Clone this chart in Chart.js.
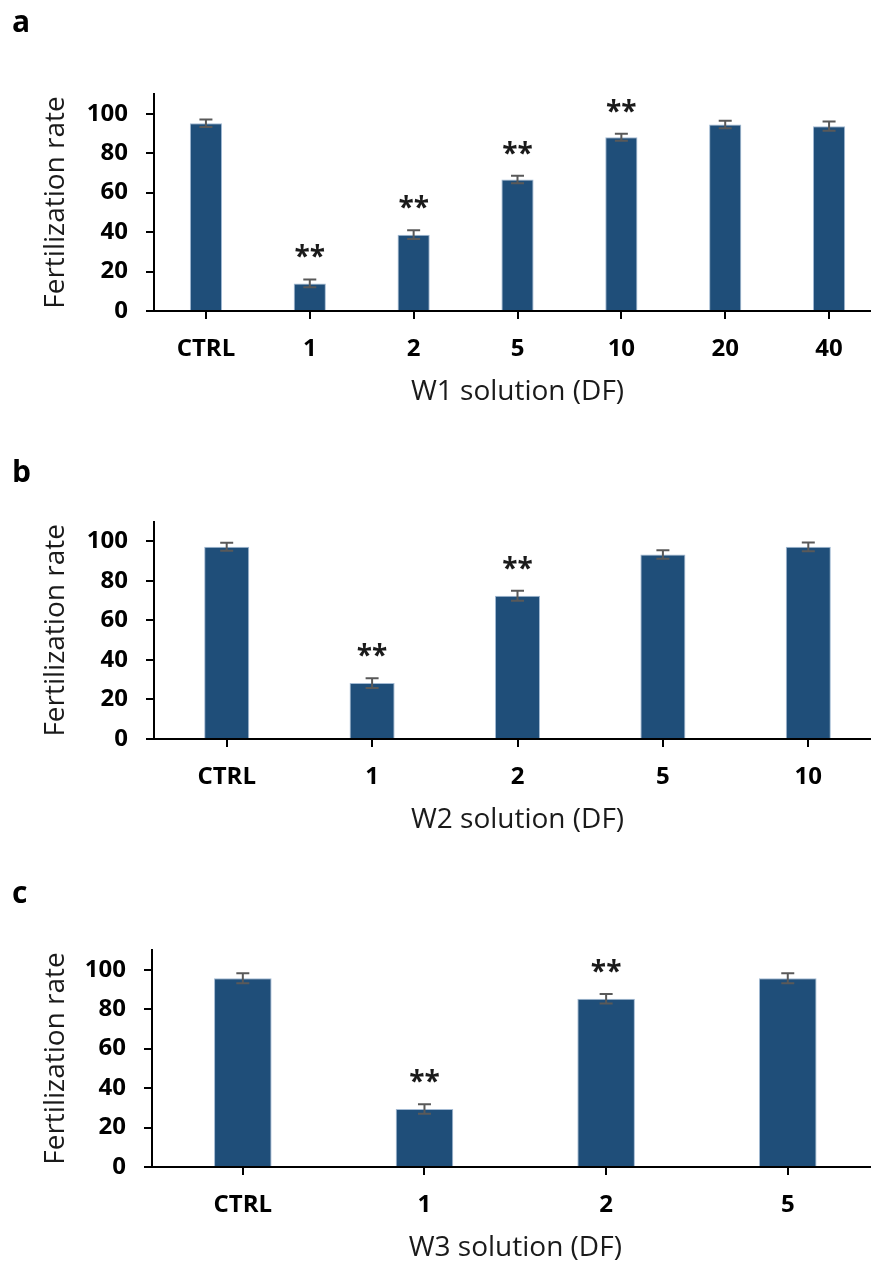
<!DOCTYPE html>
<html>
<head>
<meta charset="utf-8">
<script src="https://cdn.jsdelivr.net/npm/chart.js@4/dist/chart.umd.min.js"></script>
<style>
  html, body { margin: 0; padding: 0; background: #fff; overflow: hidden; }
  .panel { position: absolute; left: 0; }
</style>
</head>
<body>
<div class="panel" style="top:0px"><canvas id="chartA" width="881" height="421"></canvas></div>
<div class="panel" style="top:428px"><canvas id="chartB" width="881" height="421"></canvas></div>
<div class="panel" style="top:858px"><canvas id="chartC" width="881" height="419"></canvas></div>
<script>
// panel a - W1 solution
const catsA = ['CTRL', '1', '2', '5', '10', '20', '40'];
const valsA = [95.2, 14.0, 38.7, 66.6, 88.1, 94.6, 93.7];
const errA = [1.9, 2.0, 2.2, 1.9, 1.8, 1.9, 2.3];
const sigA = ['', '**', '**', '**', '**', '', ''];

// panel b - W2 solution
const catsB = ['CTRL', '1', '2', '5', '10'];
const valsB = [97.3, 28.3, 72.5, 93.4, 97.3];
const errB = [2.0, 2.5, 2.5, 2.2, 2.2];
const sigB = ['', '**', '**', '', ''];

// panel c - W3 solution
const catsC = ['CTRL', '1', '2', '5'];
const valsC = [95.7, 29.4, 85.3, 95.7];
const errC = [2.5, 2.4, 2.4, 2.5];
const sigC = ['', '**', '**', ''];

const yTicks = [0, 20, 40, 60, 80, 100];
const yMax = 110;

Chart.defaults.font.family = "'Open Sans', 'Noto Sans', sans-serif";
Chart.defaults.color = '#000';

const errorBars = {
    id: 'errorBars',
    afterDatasetsDraw(chart) {
        const ctx = chart.ctx;
        const ds = chart.data.datasets[0];
        const meta = chart.getDatasetMeta(0);
        const y = chart.scales.y;
        ctx.save();
        meta.data.forEach((bar, i) => {
            const v = ds.data[i];
            const e = ds.errors[i];
            const top = y.getPixelForValue(v + e);
            const bot = y.getPixelForValue(v - e);
            ctx.strokeStyle = '#595959';
            ctx.lineWidth = 2;
            ctx.beginPath();
            ctx.moveTo(bar.x, top);
            ctx.lineTo(bar.x, bot);
            ctx.moveTo(bar.x - 6.5, top);
            ctx.lineTo(bar.x + 6.5, top);
            ctx.moveTo(bar.x - 6.5, bot);
            ctx.lineTo(bar.x + 6.5, bot);
            ctx.stroke();
            if (ds.sig[i]) {
                ctx.fillStyle = '#1a1a1a';
                ctx.font = "bold 28px 'Open Sans'";
                ctx.textAlign = 'center';
                ctx.textBaseline = 'middle';
                ctx.fillText(ds.sig[i], bar.x, top - 21);
            }
        });
        ctx.restore();
    }
};

function makePanel(id, letter, xTitle, cats, vals, errs, sig, p) {
    const ctx = document.getElementById(id).getContext('2d');
    return new Chart(ctx, {
        type: 'bar',
        data: {
            labels: cats,
            datasets: [{
                data: vals,
                errors: errs,
                sig: sig,
                backgroundColor: '#1f4e79',
                borderColor: '#a3bad3',
                borderWidth: 1,
                barPercentage: p.barPct,
                categoryPercentage: 1
            }]
        },
        options: {
            responsive: false,
            animation: false,
            layout: { padding: { left: 12, top: 0, right: p.right, bottom: 0 } },
            plugins: {
                legend: { display: false },
                tooltip: { enabled: false },
                title: {
                    display: true,
                    text: letter,
                    align: 'start',
                    color: '#000',
                    font: { size: 30, weight: 'bold' },
                    padding: { top: p.titleTop, bottom: p.titleBottom }
                }
            },
            scales: {
                x: {
                    offset: true,
                    afterFit: s => { s.height = 110; },
                    grid: { offset: false, drawOnChartArea: false, drawTicks: true, tickLength: 8, color: '#000', lineWidth: 2 },
                    border: { display: true, color: '#000', width: 2 },
                    ticks: { color: '#000', padding: 16, font: { size: 24, weight: 'bold' } },
                    title: {
                        display: true,
                        text: xTitle,
                        color: '#1a1a1a',
                        font: { size: 28 },
                        padding: { top: 0, bottom: 12 }
                    }
                },
                y: {
                    min: 0,
                    max: yMax,
                    afterFit: s => { s.width = p.yWidth; },
                    afterBuildTicks: s => { s.ticks = yTicks.map(v => ({ value: v })); },
                    grid: { drawOnChartArea: false, drawTicks: true, tickLength: 8, color: '#000', lineWidth: 2 },
                    border: { display: true, color: '#000', width: 2 },
                    ticks: { color: '#000', padding: 18, font: { size: 24, weight: 'bold' } },
                    title: {
                        display: true,
                        text: 'Fertilization rate',
                        color: '#1a1a1a',
                        font: { size: 28 },
                        padding: { top: 27, bottom: 0 }
                    }
                }
            }
        },
        plugins: [errorBars]
    });
}

makePanel('chartA', 'a', 'W1 solution (DF)', catsA, valsA, errA, sigA,
    { barPct: 0.31, right: 0, yWidth: 142, titleTop: 5, titleBottom: 53 });
makePanel('chartB', 'b', 'W2 solution (DF)', catsB, valsB, errB, sigB,
    { barPct: 0.31, right: 0, yWidth: 142, titleTop: 27, titleBottom: 30.7 });
makePanel('chartC', 'c', 'W3 solution (DF)', catsC, valsC, errC, sigC,
    { barPct: 0.317, right: 2.4, yWidth: 140, titleTop: 18.4, titleBottom: 37.6 });
</script>
</body>
</html>
